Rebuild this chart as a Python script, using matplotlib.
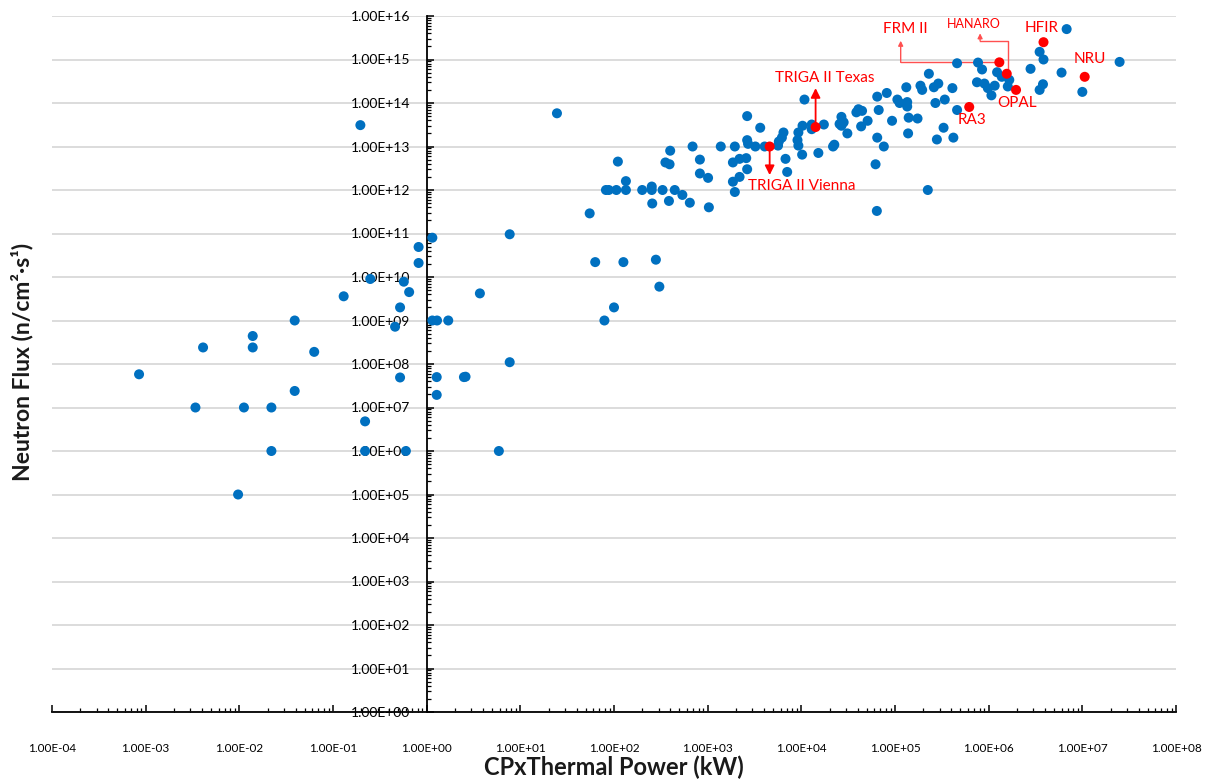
import numpy as np
import matplotlib
matplotlib.use("Agg")
import matplotlib.pyplot as plt
from matplotlib.ticker import LogLocator, FixedLocator, FuncFormatter, NullFormatter

plt.rcParams['font.family'] = ['Lato', 'DejaVu Sans']

# thermal power (kW) and neutron flux (n/cm2/s) of research reactors
power_kw = [
    0.196, 24.6, 1.15, 0.82, 0.82, 0.25, 0.57, 0.65, 0.13, 3.7, 0.52, 0.039, 0.46,
    1.15, 1.29, 1.7, 7.7, 0.0139, 0.0139, 0.0041, 0.063, 0.00085, 7.7, 0.52, 1.28,
    1.28, 2.5, 2.6, 0.039, 0.0034, 0.0112, 0.022, 0.22, 0.022, 0.22, 0.6, 5.9, 0.0097,
    55, 63, 126, 280, 305, 100, 79, 110, 82, 88, 106, 134, 134, 200, 253, 253, 256,
    330, 386, 445, 537, 645, 1030, 354, 392, 398, 690, 826, 826, 1010, 1380, 1950,
    1860, 2190, 2580, 2640, 1860, 2190, 1950, 2640, 2640, 2700, 3230, 3640, 4060,
    5640, 5750, 6450, 6200, 6780, 7060, 9300, 9100, 9300, 10300, 10200, 10800,
    12900, 12900, 17400, 15200, 21800, 22500, 26800, 25600, 28300, 26800, 31000,
    38700, 40700, 44500, 51000, 43500, 64600, 81700, 67000, 64600, 76000, 62000,
    64000, 2.24e5,
    6.8e6, 3.5e6, 3.85e6, 2.8e6, 6e6, 2.5e7, 1e7, 3.8e6, 3.5e6, 7.7e5, 8.5e5, 4.6e5,
    1.23e6, 1.38e6, 1.66e6, 1.6e6, 7.5e5, 9e5, 9.8e5, 1.07e6, 1.16e6, 2.3e5, 2.9e5,
    2.6e5, 1.87e5, 1.95e5, 4.1e5, 1.32e5, 1.06e5, 1.12e5, 1.35e5, 1.35e5, 2.7e5,
    3.4e5, 4.6e5, 9.3e4, 1.4e5, 1.74e5, 1.38e5, 3.3e5, 2.8e5, 4.2e5,
]
flux = [
    3.1e13, 5.8e13, 8e10, 4.9e10, 2.1e10, 9e9, 7.8e9, 4.5e9, 3.6e9, 4.2e9, 2e9, 1e9, 7.2e8,
    1e9, 1e9, 1e9, 9.6e10, 4.4e8, 2.4e8, 2.4e8, 1.9e8, 5.8e7, 1.1e8, 4.9e7, 5e7,
    1.95e7, 5e7, 5.1e7, 2.4e7, 1e7, 1e7, 1e7, 4.8e6, 1e6, 1e6, 1e6, 1e6, 1e5,
    2.9e11, 2.2e10, 2.2e10, 2.5e10, 6e9, 2e9, 1e9, 4.5e12, 1e12, 1e12, 1e12, 1.6e12, 1e12,
    1e12, 1.2e12, 1e12, 4.9e11,
    1e12, 5.6e11, 1e12, 7.7e11, 5.1e11, 4e11, 4.3e12, 3.9e12, 8e12, 1e13, 5e12, 2.4e12,
    1.9e12, 1e13, 1e13,
    4.3e12, 5.2e12, 5.4e12, 3e12, 1.55e12, 2e12, 9e11, 5e13, 1.4e13, 1.15e13, 1e13,
    2.7e13, 1e13,
    1.05e13, 1.3e13, 2.1e13, 1.6e13, 5.2e12, 2.6e12, 2.1e13, 1.4e13, 1.05e13, 3e13,
    6.5e12, 1.2e14,
    3.2e13, 2.5e13, 3.2e13, 7.1e12, 1e13, 1.1e13, 4.8e13, 3.3e13, 3.6e13, 3e13, 2e13,
    6.1e13, 7.2e13, 6.6e13, 3.9e13, 2.9e13, 1.4e14, 1.7e14, 6.9e13, 1.6e13, 1e13, 3.9e12,
    3.3e11, 1e12,
    5e15, 1.5e15, 1e15, 6.1e14, 5e14, 8.8e14, 1.8e14, 2.7e14, 2e14, 8.5e14, 5.9e14, 8.2e14,
    5.1e14, 4e14, 3.4e14, 2.4e14, 3e14, 2.8e14, 2.2e14, 1.5e14, 2.5e14, 4.7e14, 2.8e14,
    2.3e14, 2.5e14, 2e14, 2.2e14, 2.3e14, 1.2e14, 1e14, 1.05e14, 8.3e13, 1e14,
    1.2e14, 6.9e13, 3.9e13, 4.6e13, 4.4e13, 2e13, 2.7e13, 1.45e13, 1.6e13,
]

# highlighted reactors
named = ["TRIGA II Vienna", "TRIGA II Texas", "FRM II", "HANARO", "OPAL", "RA3", "HFIR", "NRU"]
named_power = [4590, 14200, 1.3e6, 1.56e6, 1.96e6, 6.2e5, 3.85e6, 1.06e7]
named_flux = [1e13, 2.8e13, 8.6e14, 4.7e14, 2e14, 8.1e13, 2.5e15, 4e14]

x_ticks = [10.0 ** e for e in range(-4, 9)]
y_ticks = [10.0 ** e for e in range(0, 17)]

BLUE = '#0070C0'
RED = '#FF0000'

fig = plt.figure(figsize=(12.14, 7.80), dpi=100)
ax = fig.add_axes([52 / 1214, 68 / 780, 1124 / 1214, 696 / 780])
ax.set_xscale('log')
ax.set_yscale('log')
ax.set_xlim(1e-4, 1e8)
ax.set_ylim(1, 1e16)

ax.scatter(power_kw, flux, s=52, color=BLUE, edgecolors='none', zorder=3)
ax.scatter(named_power, named_flux, s=52, color=RED, edgecolors='none', zorder=4)

# axes look (Excel style: y axis crosses at x = 1)
for s in ['top', 'right']:
    ax.spines[s].set_visible(False)
ax.spines['left'].set_position(('data', 1))
ax.spines['left'].set_linewidth(1.3)
ax.spines['bottom'].set_linewidth(1.3)
ax.set_axisbelow(True)
ax.yaxis.grid(True, which='major', color='#D9D9D9', lw=1.3)
ax.xaxis.grid(False)

sci = FuncFormatter(lambda v, p: f"{v:.2E}")
ax.xaxis.set_major_locator(FixedLocator(x_ticks))
ax.yaxis.set_major_locator(FixedLocator(y_ticks))
ax.xaxis.set_minor_locator(LogLocator(base=10, subs=np.arange(2, 10), numticks=100))
ax.yaxis.set_minor_locator(LogLocator(base=10, subs=np.arange(2, 10), numticks=100))
ax.xaxis.set_major_formatter(sci)
ax.yaxis.set_major_formatter(sci)
ax.xaxis.set_minor_formatter(NullFormatter())
ax.yaxis.set_minor_formatter(NullFormatter())
ax.tick_params(axis='both', which='major', direction='in', length=5, width=1.1)
ax.tick_params(axis='both', which='minor', direction='in', length=3, width=0.9)
ax.tick_params(axis='x', which='major', labelsize=8.5, pad=22)
ax.tick_params(axis='y', which='major', labelsize=10, pad=12)

fig.text(614 / 1214, 1 - 767 / 780, "CPxThermal Power (kW)", ha='center', va='center',
         fontsize=17, fontweight='bold', color='#1a1a1a')
fig.text(22 / 1214, 1 - 362 / 780, "Neutron Flux (n/cm²·s¹)", ha='center', va='center',
         rotation=90, fontsize=16.5, fontweight='bold', color='#1a1a1a')

# labels of the highlighted reactors
tk = dict(color=RED, fontsize=11)
ax.text(1.78e4, 3.7e14, "TRIGA II Texas", ha='center', va='center', **tk)
ax.text(2690, 1.23e12, "TRIGA II Vienna", ha='left', va='center', **tk)
ax.text(1.29e5, 5e15, "FRM II", ha='center', va='center', **tk)
ax.text(6.9e5, 6.6e15, "HANARO", ha='center', va='center', color=RED, fontsize=9)
ax.text(3.67e6, 5.3e15, "HFIR", ha='center', va='center', **tk)
ax.text(1.2e7, 1.03e15, "NRU", ha='center', va='center', **tk)
ax.text(2e6, 1e14, "OPAL", ha='center', va='center', **tk)
ax.text(6.7e5, 4.1e13, "RA3", ha='center', va='center', **tk)

big = dict(arrowstyle='-|>', color=RED, lw=1.3, mutation_scale=14, shrinkA=0, shrinkB=0)
small = dict(arrowstyle='-|>', color='#FF5050', lw=1.0, mutation_scale=7, shrinkA=0, shrinkB=0)
ax.annotate('', xy=(14200, 2.2e14), xytext=(14200, 2.8e13), arrowprops=big, zorder=5)
ax.annotate('', xy=(4590, 2.2e12), xytext=(4590, 1e13), arrowprops=big, zorder=5)

# elbow connectors
ax.plot([1.3e6, 1.15e5], [8.6e14, 8.6e14], color='#FF5050', lw=1.0, zorder=2)
ax.annotate('', xy=(1.15e5, 2.7e15), xytext=(1.15e5, 8.6e14), arrowprops=small, zorder=5)
ax.plot([1.6e6, 1.6e6, 8.1e5], [4.7e14, 2.7e15, 2.7e15], color='#FF5050', lw=1.0, zorder=2)
ax.annotate('', xy=(8.1e5, 4.0e15), xytext=(8.1e5, 2.7e15), arrowprops=small, zorder=5)

fig.savefig("out.png", dpi=100)
